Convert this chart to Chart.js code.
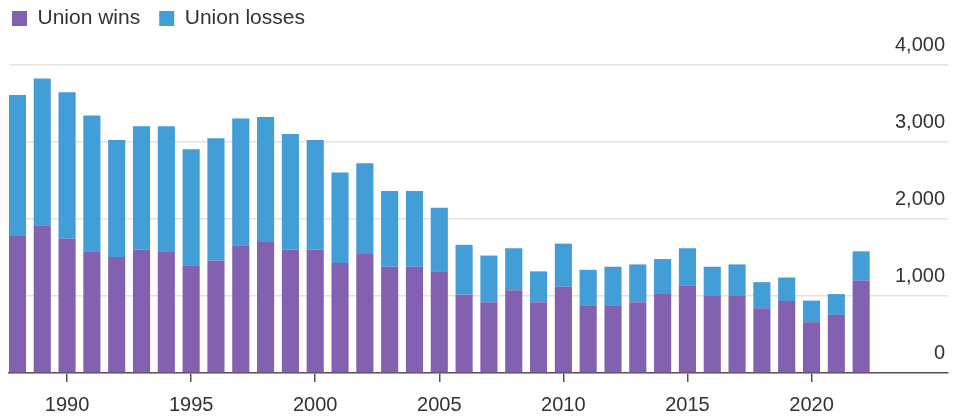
<!DOCTYPE html>
<html>
<head>
<meta charset="utf-8">
<script src="https://cdn.jsdelivr.net/npm/chart.js@4/dist/chart.umd.min.js"></script>
<style>
  html, body { margin: 0; padding: 0; background: #fff; }
  #wrap { width: 953px; height: 417px; position: relative; }
</style>
</head>
<body>
<div id="wrap"><canvas id="chart"></canvas></div>
<script>
// years 1988..2022
const years = [1988, 1989, 1990, 1991, 1992, 1993, 1994, 1995, 1996, 1997, 1998, 1999,
	2000, 2001, 2002, 2003, 2004, 2005, 2006, 2007, 2008, 2009, 2010, 2011,
	2012, 2013, 2014, 2015, 2016, 2017, 2018, 2019, 2020, 2021, 2022];

const unionWins = [1780, 1920, 1745, 1580, 1505, 1600, 1580, 1400, 1460, 1660, 1700, 1600,
	1600, 1430, 1545, 1380, 1380, 1320, 1020, 920, 1075, 920, 1120, 880,
	880, 920, 1035, 1140, 1000, 1000, 840, 935, 660, 755, 1200];

const unionLosses = [1830, 1905, 1900, 1765, 1520, 1605, 1625, 1505, 1590, 1645, 1625, 1505,
	1425, 1175, 1180, 985, 985, 825, 645, 605, 545, 400, 560, 460,
	500, 490, 445, 480, 380, 410, 340, 305, 280, 270, 380];

const xTickYears = [1990, 1995, 2000, 2005, 2010, 2015, 2020];
const yTicks = [0, 1000, 2000, 3000, 4000];

const fontFamily = '"Liberation Sans", Arial, Helvetica, sans-serif';

// push the plot area down a bit below the legend
const legendGap = {
	id: 'legendGap',
	beforeLayout(chart) {
		const lg = chart.legend;
		if (lg && !lg._gapPatched) {
			const fit = lg.fit;
			lg.fit = function () {
				fit.call(this);
				this.height += 26;
			};
			lg._gapPatched = true;
		}
	}
};

new Chart(document.getElementById('chart'), {
	type: 'bar',
	data: {
		labels: years,
		datasets: [{
			label: 'Union wins',
			data: unionWins,
			yAxisID: 'y',
			backgroundColor: '#8261b0'
		}, {
			label: 'Union losses',
			data: unionLosses,
			yAxisID: 'y',
			backgroundColor: '#439dd7'
		}]
	},
	options: {
		responsive: true,
		maintainAspectRatio: false,
		animation: false,
		barPercentage: 0.69,
		categoryPercentage: 1,
		layout: {
			padding: { left: -7, right: 5, top: -11, bottom: -11 }
		},
		plugins: {
			legend: {
				position: 'top',
				align: 'start',
				labels: {
					boxWidth: 15,
					boxHeight: 15,
					padding: 19,
					color: '#333',
					font: { family: fontFamily, size: 21 }
				}
			},
			tooltip: { enabled: false }
		},
		scales: {
			x: {
				type: 'linear',
				stacked: true,
				min: 1987.66,
				max: 2025.5,
				offset: false,
				afterBuildTicks(scale) {
					scale.ticks = xTickYears.map(v => ({ value: v }));
				},
				grid: {
					offset: false,
					drawOnChartArea: false,
					drawTicks: true,
					tickLength: 9,
					color: '#555',
					lineWidth: 1.5
				},
				border: { display: true, color: '#555', width: 1.5 },
				ticks: {
					color: '#333',
					padding: 11,
					maxRotation: 0,
					autoSkip: false,
					font: { family: fontFamily, size: 20 },
					callback: v => String(v)
				}
			},
			y: {
				position: 'right',
				stacked: true,
				min: 0,
				max: 4000,
				afterBuildTicks(scale) {
					scale.ticks = yTicks.map(v => ({ value: v }));
				},
				afterFit(scale) {
					scale.paddingTop = 0;
					scale.paddingBottom = 0;
				},
				grid: {
					color: '#e3e3e3',
					lineWidth: 1.5,
					drawTicks: false
				},
				border: { display: false },
				ticks: {
					mirror: true,
					crossAlign: 'near',
					padding: -3,
					labelOffset: -20,
					color: '#333',
					font: { family: fontFamily, size: 20 },
					callback: v => v.toLocaleString('en-US')
				}
			},
			// empty spacer on the left edge
			left: {
				position: 'left',
				display: true,
				grid: { display: false },
				border: { display: false },
				ticks: { display: false },
				afterFit(scale) {
					scale.width = 16;
				}
			}
		}
	},
	plugins: [legendGap]
});
</script>
</body>
</html>
